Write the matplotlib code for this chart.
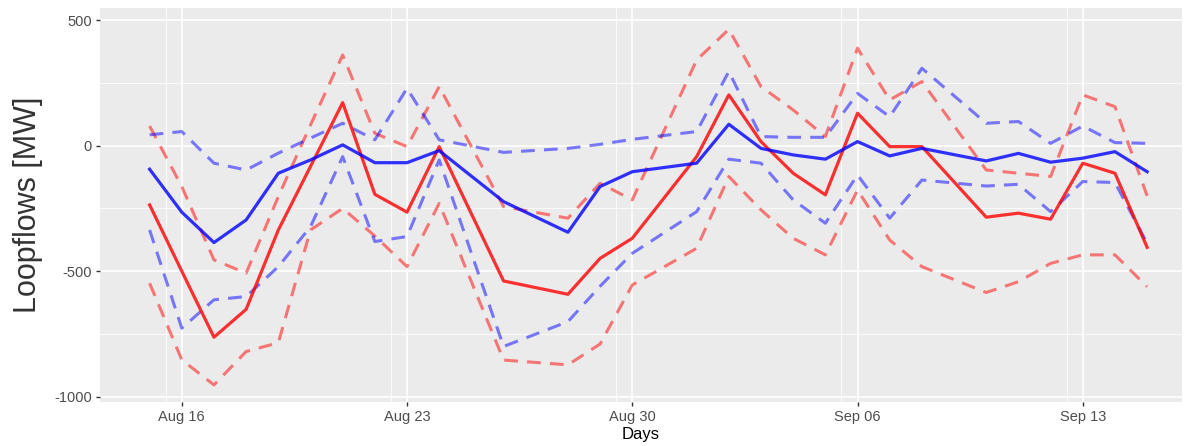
import matplotlib
matplotlib.use("Agg")
import matplotlib.pyplot as plt
import matplotlib.dates as mdates
import numpy as np

plt.rcParams["font.family"] = ["Liberation Sans", "DejaVu Sans"]
plt.rcParams["axes.unicode_minus"] = False

# days with observations
days = np.array([
    "2019-08-15", "2019-08-16", "2019-08-17", "2019-08-18", "2019-08-19",
    "2019-08-20", "2019-08-21", "2019-08-22", "2019-08-23", "2019-08-24",
    "2019-08-26", "2019-08-28", "2019-08-29", "2019-08-30", "2019-09-01",
    "2019-09-02", "2019-09-03", "2019-09-04", "2019-09-05", "2019-09-06",
    "2019-09-07", "2019-09-08", "2019-09-10", "2019-09-11", "2019-09-12",
    "2019-09-13", "2019-09-14", "2019-09-15",
], dtype="datetime64[D]")

blue_mean = [-94, -265, -386, -296, -110, -57, 3, -68, -68, -20,
             -223, -345, -163, -104, -70, 85, -11, -37, -54, 16,
             -41, -11, -61, -31, -66, -50, -24, -104]
blue_upper = [43, 56, -70, -97, -30, 30, 89, 23, 228, 23,
              -27, -11, 5, 25, 56, 295, 36, 33, 33, 208,
              115, 308, 89, 96, 9, 78, 12, 9]
blue_lower = [-336, -727, -614, -601, -482, -323, -44, -382, -362, -57,
              -800, -701, -560, -429, -263, -54, -70, -216, -309, -117,
              -289, -137, -161, -154, -263, -143, -147, -389]

red_mean = [-236, -500, -763, -652, -336, -83, 171, -194, -265, -4,
            -539, -592, -449, -369, -44, 202, 16, -110, -196, 129,
            -4, -4, -285, -269, -293, -70, -110, -405]
red_upper = [78, -163, -455, -508, -203, 82, 361, 49, -4, 235,
             -243, -289, -150, -216, 341, 463, 235, 142, 36, 388,
             182, 255, -97, -110, -123, 202, 155, -200]
red_lower = [-548, -853, -953, -820, -785, -336, -250, -360, -482, -230,
             -854, -873, -790, -555, -409, -123, -256, -369, -435, -177,
             -376, -482, -585, -542, -469, -435, -435, -562]

x_ticks = np.array(["2019-08-16", "2019-08-23", "2019-08-30", "2019-09-06",
                    "2019-09-13"], dtype="datetime64[D]")
y_ticks = [-1000, -500, 0, 500]

fig = plt.figure(figsize=(11.84, 4.46), dpi=100)
ax = fig.add_axes([100 / 1184, 1 - 402 / 446, 1082 / 1184, 394 / 446])
ax.set_facecolor("#EBEBEB")
for s in ax.spines.values():
    s.set_visible(False)

dash = dict(linestyle=(0, (4.5, 3)), linewidth=2.2, alpha=0.5)
ax.plot(days, red_upper, color="red", **dash)
ax.plot(days, red_lower, color="red", **dash)
ax.plot(days, blue_upper, color="blue", **dash)
ax.plot(days, blue_lower, color="blue", **dash)
ax.plot(days, red_mean, color="red", linewidth=2.3, alpha=0.8)
ax.plot(days, blue_mean, color="blue", linewidth=2.3, alpha=0.8)

ax.set_xlim(mdates.datestr2num("2019-08-13 11:00"), mdates.datestr2num("2019-09-16 02:00"))
ax.set_ylim(-1021, 548)
ax.set_xticks(x_ticks)
ax.xaxis.set_major_formatter(mdates.DateFormatter("%b %d"))
ax.set_yticks(y_ticks)
ax.set_xticks([mdates.datestr2num(d) + 3.5 for d in
               ["2019-08-12", "2019-08-19", "2019-08-26", "2019-09-02", "2019-09-09"]],
              minor=True)
ax.set_yticks([-750, -250, 250], minor=True)

ax.grid(True, which="major", color="white", linewidth=1.2)
ax.grid(True, which="minor", color="white", linewidth=0.6)
ax.set_axisbelow(True)
ax.tick_params(which="major", length=3, width=1, color="#333333",
               labelcolor="#4D4D4D", labelsize=10.5, pad=3)
ax.tick_params(which="minor", length=0)

ax.set_xlabel("Days", fontsize=12, color="black", labelpad=2)
ax.set_ylabel("Loopflows [MW]", fontsize=22, color="#333333", labelpad=8)

fig.savefig("out.png", dpi=100)
